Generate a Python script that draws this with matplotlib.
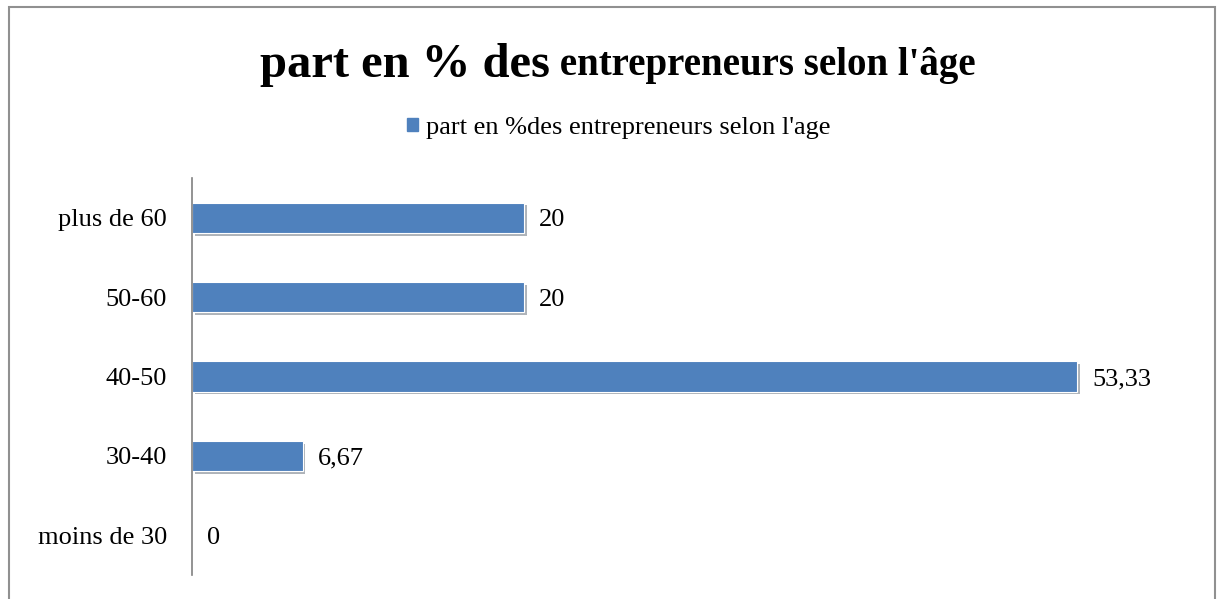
import matplotlib.pyplot as plt
from matplotlib import patheffects
from matplotlib.patches import Rectangle

categories = ["moins de 30", "30-40", "40-50", "50-60", "plus de 60"]
values = [0, 6.67, 53.33, 20, 20]
value_labels = ["0", "6,67", "53,33", "20", "20"]
series_name = "part en %des entrepreneurs selon l'age"

BLUE = "#4F81BD"
plt.rcParams["font.family"] = ["Liberation Serif", "DejaVu Serif"]


def main():
    fig = plt.figure(figsize=(12.18, 5.99), dpi=100)
    ax = fig.add_axes([192 / 1218, 24 / 599, 996 / 1218, 397 / 599])

    shadow = [patheffects.SimplePatchShadow(offset=(2, -2), alpha=0.35),
              patheffects.Normal()]
    bars = ax.barh(range(len(categories)), values, height=0.38, color=BLUE,
                   edgecolor="white", linewidth=0.8)
    for bar in bars:
        bar.set_path_effects(shadow)

    for bar, lab in zip(bars, value_labels):
        ax.annotate(lab, (bar.get_width(), bar.get_y() + bar.get_height() / 2),
                    xytext=(11, 0), textcoords="offset points",
                    va="center_baseline", ha="left", fontsize=19)

    ax.set_xlim(0, 60)
    ax.set_ylim(-0.5, len(categories) - 0.5)
    ax.set_yticks(range(len(categories)))
    ax.set_yticklabels(categories, fontsize=19)
    ax.tick_params(axis="y", length=0, pad=18)
    ax.set_xticks([])
    for side in ["top", "right", "bottom"]:
        ax.spines[side].set_visible(False)
    ax.spines["left"].set_color("#808080")
    ax.spines["left"].set_linewidth(1.2)

    # two-size title
    fig.text(0.4515, 0.892, "part en % des", fontsize=35, fontweight="bold",
             ha="right", va="center")
    fig.text(0.4515, 0.890, " entrepreneurs selon l'âge", fontsize=28,
             fontweight="bold", ha="left", va="center")

    handle = Rectangle((0, 0), 1, 1, color=BLUE)
    fig.legend([handle], [series_name], loc="center",
               bbox_to_anchor=(0.508, 0.786), frameon=False,
               fontsize=19, handlelength=0.4, handleheight=0.4,
               handletextpad=0.3)

    # outer frame
    fig.patches.append(Rectangle((9 / 1218, -0.02), 1206 / 1218, 1.02 - 7 / 599,
                                 transform=fig.transFigure, fill=False,
                                 edgecolor="#909090", linewidth=1.5))

    fig.savefig("out.png", dpi=100)


if __name__ == "__main__":
    main()
